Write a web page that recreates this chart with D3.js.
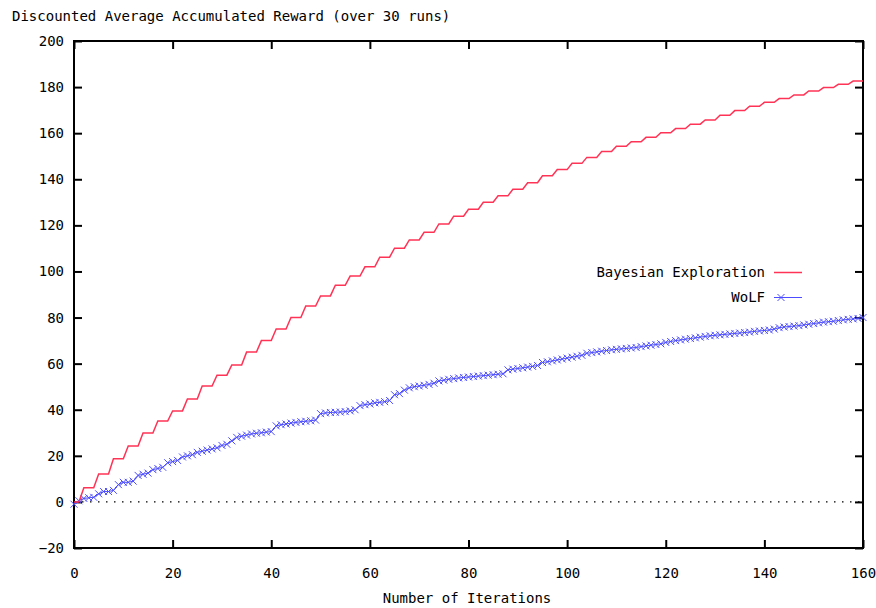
<!DOCTYPE html>
<html>
<head>
<meta charset="utf-8">
<script src="https://cdn.jsdelivr.net/npm/d3@7"></script>
<style>
body { margin: 0; background: #fff; }
text { font-family: "DejaVu Sans Mono", "Liberation Mono", monospace; font-size: 14px; fill: #000; }
</style>
</head>
<body>
<div id="chart"></div>
<script>
var chartTitle = "Discounted Average Accumulated Reward (over 30 runs)";
var xLabel = "Number of Iterations";
var seriesNames = ["Bayesian Exploration", "WoLF"];
var xTicks = [0, 20, 40, 60, 80, 100, 120, 140, 160];
var yTicks = [-20, 0, 20, 40, 60, 80, 100, 120, 140, 160, 180, 200];

// one value per iteration, 0..160
var bayesReward = [0, 0,
    6.1, 6.1, 6.1, 12.1, 12.1, 12.1, 18.7, 18.7, 18.7, 24.3, 24.3, 24.3,
    29.9, 29.9, 29.9, 35.1, 35.1, 35.1, 39.5, 39.5, 39.5, 44.7, 44.7, 44.7,
    50.3, 50.3, 50.3, 55, 55, 55, 59.4, 59.4, 59.4, 65, 65, 65,
    70, 70, 70, 75, 75, 75, 80, 80, 80, 85, 85, 85,
    89.4, 89.4, 89.4, 94, 94, 94, 98, 98, 98, 102, 102, 102,
    106.2, 106.2, 106.2, 110.1, 110.1, 110.1, 113.7, 113.7, 113.7, 117, 117, 117,
    120.6, 120.6, 120.6, 124, 124, 124, 127, 127, 127, 130, 130, 130,
    132.8, 132.8, 132.8, 135.7, 135.7, 135.7, 138.5, 138.5, 138.5, 141.5, 141.5, 141.5,
    144.2, 144.2, 144.2, 146.9, 146.9, 146.9, 149.5, 149.5, 149.5, 152, 152, 152,
    154.3, 154.3, 154.3, 156.3, 156.3, 156.3, 158.2, 158.2, 158.2, 160.2, 160.2, 160.2,
    162, 162, 162, 163.9, 163.9, 163.9, 165.7, 165.7, 165.7, 167.8, 167.8, 167.8,
    169.8, 169.8, 169.8, 171.7, 171.7, 171.7, 173.4, 173.4, 173.4, 175, 175, 175,
    176.6, 176.6, 176.6, 178.3, 178.3, 178.3, 179.8, 179.8, 179.8, 181.2, 181.2, 181.2,
    182.6, 182.6, 182.6];

var wolfReward = [
    -1, 0.5, 1.5, 1.8, 2,       3.5, 4.5, 4.5, 5, 7.5,
    8.5, 8.5, 9, 11.5, 12,      12.5, 14, 14.5, 15, 17,
    17.5, 18, 19.5, 20, 20.5,   21.5, 22, 22.5, 23, 23.5,
    24.5, 25, 26.5, 28, 28.5,   29, 29.5, 29.8, 30, 30.3,
    30.5, 33, 33.5, 33.8, 34.2, 34.5, 34.8, 35, 35.2, 35.5,
    38.3, 38.6, 38.8, 38.9, 39, 39.2, 39.5, 40, 41.8, 42.2,
    42.5, 43, 43.2, 43.5, 44,   46.5, 47, 48.5, 49.5, 50,
    50.3, 50.6, 51, 51.5, 52.5, 52.8, 53.2, 53.5, 53.8, 54,
    54.2, 54.4, 54.6, 54.8, 55, 55.2, 55.4, 55.6, 57.3, 57.6,
    57.9, 58.2, 58.5, 58.8, 59.2, 60.5, 60.8, 61.2, 61.6, 62,
    62.4, 62.8, 63.2, 63.6, 64.5, 64.8, 65.1, 65.4, 65.7, 66,
    66.2, 66.4, 66.6, 66.8, 67, 67.4, 67.7, 68, 68.3, 68.6,
    69.2, 69.6, 70, 70.3, 70.6, 70.9, 71.2, 71.5, 71.8, 72.1,
    72.3, 72.5, 72.7, 72.9, 73.1, 73.3, 73.5, 73.7, 74, 74.2,
    74.4, 74.6, 75, 75.6, 75.9, 76.1, 76.3, 76.5, 76.8, 77.1,
    77.4, 77.7, 78, 78.2, 78.4, 78.7, 79, 79.2, 79.4, 79.6,
    80];

var red = "#ff3355";
var blue = "#4d4dff";

var svg = d3.select("#chart").append("svg")
    .attr("width", 876)
    .attr("height", 608);

var x = d3.scaleLinear().domain([0, 160]).range([74, 863]);
var y = d3.scaleLinear().domain([-20, 200]).range([548, 41]);

// title
svg.append("text")
    .attr("x", 12)
    .attr("y", 21)
    .text(chartTitle);

// zero line
svg.append("line")
    .attr("x1", x(0)).attr("x2", x(160))
    .attr("y1", y(0)).attr("y2", y(0))
    .attr("stroke", "#000")
    .attr("stroke-width", 1.2)
    .attr("stroke-dasharray", "1.5,6.5");

// axes, ticks pointing inward
var gLeft = svg.append("g")
    .attr("transform", "translate(" + x(0) + ",0)")
    .call(d3.axisLeft(y).tickValues(yTicks).tickSizeInner(-8).tickSizeOuter(0).tickPadding(10));
var gBottom = svg.append("g")
    .attr("transform", "translate(0," + y(-20) + ")")
    .call(d3.axisBottom(x).tickValues(xTicks).tickSizeInner(-8).tickSizeOuter(0).tickPadding(20));
var gRight = svg.append("g")
    .attr("transform", "translate(" + x(160) + ",0)")
    .call(d3.axisRight(y).tickValues(yTicks).tickSizeInner(-8).tickSizeOuter(0).tickFormat(""));
var gTop = svg.append("g")
    .attr("transform", "translate(0," + y(200) + ")")
    .call(d3.axisTop(x).tickValues(xTicks).tickSizeInner(-8).tickSizeOuter(0).tickFormat(""));

svg.selectAll(".domain").remove();
svg.selectAll(".tick line").attr("stroke", "#000").attr("stroke-width", 2);
svg.selectAll(".tick text")
    .style("font-family", "\"DejaVu Sans Mono\", \"Liberation Mono\", monospace")
    .style("font-size", "14px")
    .attr("fill", "#000");

// border
svg.append("rect")
    .attr("x", x(0))
    .attr("y", y(200))
    .attr("width", x(160) - x(0))
    .attr("height", y(-20) - y(200))
    .attr("fill", "none")
    .attr("stroke", "#000")
    .attr("stroke-width", 2);

// x axis label
svg.append("text")
    .attr("x", 467)
    .attr("y", 603)
    .attr("text-anchor", "middle")
    .text(xLabel);

var line = d3.line()
    .x(function(d, i) { return x(i); })
    .y(function(d) { return y(d); });

// WoLF line with x markers
svg.append("path")
    .datum(wolfReward)
    .attr("d", line)
    .attr("fill", "none")
    .attr("stroke", blue)
    .attr("stroke-width", 1);

var s = 3.5;
svg.selectAll(".wolfPoint")
    .data(wolfReward)
    .enter().append("path")
    .attr("class", "wolfPoint")
    .attr("d", function(d, i) {
        var px = x(i), py = y(d);
        return "M" + (px - s) + "," + (py - s) + "L" + (px + s) + "," + (py + s) +
               "M" + (px - s) + "," + (py + s) + "L" + (px + s) + "," + (py - s);
    })
    .attr("stroke", blue)
    .attr("stroke-width", 1)
    .attr("fill", "none");

// Bayesian line
svg.append("path")
    .datum(bayesReward)
    .attr("d", line)
    .attr("fill", "none")
    .attr("stroke", red)
    .attr("stroke-width", 1.5);

// legend
svg.append("text")
    .attr("x", 765)
    .attr("y", 277)
    .attr("text-anchor", "end")
    .text(seriesNames[0]);
svg.append("line")
    .attr("x1", 774).attr("x2", 802)
    .attr("y1", 272.5).attr("y2", 272.5)
    .attr("stroke", red)
    .attr("stroke-width", 1.5);

svg.append("text")
    .attr("x", 765)
    .attr("y", 302)
    .attr("text-anchor", "end")
    .text(seriesNames[1]);
svg.append("line")
    .attr("x1", 774).attr("x2", 802)
    .attr("y1", 297.5).attr("y2", 297.5)
    .attr("stroke", blue)
    .attr("stroke-width", 1);
svg.append("path")
    .attr("d", "M" + (781 - s) + "," + (297.5 - s) + "L" + (781 + s) + "," + (297.5 + s) +
               "M" + (781 - s) + "," + (297.5 + s) + "L" + (781 + s) + "," + (297.5 - s))
    .attr("stroke", blue)
    .attr("stroke-width", 1);
</script>
</body>
</html>
